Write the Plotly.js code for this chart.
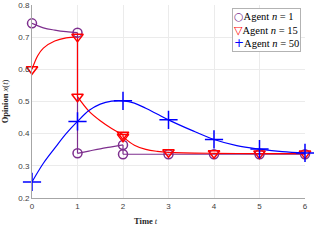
<!DOCTYPE html>
<html>
<head>
<meta charset="utf-8">
<script src="https://cdn.plot.ly/plotly-3.0.1.min.js"></script>
<style>html,body{margin:0;padding:0;background:#fff;}#chart{width:314px;height:240px;}</style>
</head>
<body>
<div id="chart"></div>
<script>
// Agent n = 1 (purple): curve segments separated by jumps
const a1SegT = [[0, 0.25, 0.5, 0.75, 1], [1, 1.25, 1.5, 1.75, 2], [2, 3, 4, 5, 6]];
const a1SegX = [[0.743, 0.729, 0.722, 0.717, 0.714], [0.339, 0.346, 0.353, 0.359, 0.365], [0.336, 0.336, 0.336, 0.336, 0.336]];
const a1MarkT = [0, 1, 1, 2, 2, 3, 4, 5, 6];
const a1MarkX = [0.743, 0.714, 0.339, 0.365, 0.336, 0.336, 0.336, 0.336, 0.336];

// Agent n = 15 (red)
const a15SegT = [[0, 0.125, 0.25, 0.5, 0.75, 1], [1, 1.25, 1.5, 1.75, 2], [2, 2.25, 2.5, 2.75, 3, 4, 5, 6]];
const a15SegX = [[0.600, 0.642, 0.666, 0.688, 0.698, 0.701], [0.515, 0.470, 0.440, 0.416, 0.397], [0.390, 0.364, 0.351, 0.345, 0.342, 0.339, 0.338, 0.338]];
const a15MarkT = [0, 1, 1, 2, 2, 3, 4, 5, 6];
const a15MarkX = [0.600, 0.701, 0.515, 0.397, 0.390, 0.342, 0.339, 0.338, 0.338];

// Agent n = 50 (blue)
const a50SegT = [[0, 0.25, 0.5, 0.75, 1, 1.25, 1.5, 1.75, 2, 2.25, 2.5, 2.75, 3, 3.5, 4, 4.5, 5, 5.5, 6]];
const a50SegX = [[0.250, 0.308, 0.355, 0.400, 0.438, 0.472, 0.492, 0.501, 0.502, 0.495, 0.479, 0.461, 0.443, 0.411, 0.382, 0.363, 0.352, 0.344, 0.340]];
const a50MarkT = [0, 1, 2, 3, 4, 5, 6];
const a50MarkX = [0.250, 0.438, 0.502, 0.443, 0.382, 0.352, 0.340];

const legendNames = ['Agent <i>n</i> = 1', 'Agent <i>n</i> = 15', 'Agent <i>n</i> = 50'];
const legendGlyphs = ['○', '▽', '+'];
const xTicks = [0, 1, 2, 3, 4, 5, 6];
const yTicks = [0.2, 0.3, 0.4, 0.5, 0.6, 0.7, 0.8];

const agents = [
  {segT: a1SegT, segX: a1SegX, mT: a1MarkT, mX: a1MarkX, color: '#7E2F8E', symbol: 'circle-open', size: 9, gsize: 11},
  {segT: a15SegT, segX: a15SegX, mT: a15MarkT, mX: a15MarkX, color: '#FF0000', symbol: 'triangle-down-open', size: 10, gsize: 11},
  {segT: a50SegT, segX: a50SegX, mT: a50MarkT, mX: a50MarkX, color: '#0000FF', symbol: 'cross-thin-open', size: 13, gsize: 12}
];

const traces = [];
agents.forEach((a, i) => {
  a.segT.forEach((st, k) => {
    traces.push({x: st, y: a.segX[k], mode: 'lines', line: {color: a.color, width: 1.2, shape: 'spline', smoothing: 1}, showlegend: false, hoverinfo: 'skip'});
    if (k + 1 < a.segT.length) {
      const t0 = st[st.length - 1], x0 = a.segX[k][st.length - 1];
      const t1 = a.segT[k + 1][0], x1 = a.segX[k + 1][0];
      traces.push({x: [t0, t1], y: [x0, x1], mode: 'lines', line: {color: a.color, width: 1.2}, showlegend: false, hoverinfo: 'skip'});
    }
  });
});
agents.forEach((a, i) => {
  traces.push({x: a.mT, y: a.mX, mode: 'markers', name: legendNames[i], showlegend: false, cliponaxis: false,
    marker: {symbol: a.symbol, size: a.size, color: a.color, line: {color: a.color, width: 1.5}}});
});

const legendText = agents.map((a, i) =>
  '<span style="color:' + a.color + ';font-family:DejaVu Sans;font-size:' + a.gsize + 'px">' + legendGlyphs[i] + '</span>' + legendNames[i]
).join('<br>');

const layout = {
  width: 314, height: 240,
  margin: {l: 32, r: 9, t: 5, b: 42},
  paper_bgcolor: '#fff', plot_bgcolor: '#fff',
  font: {family: 'Liberation Sans, Arial, sans-serif', size: 8, color: '#404040'},
  xaxis: {range: [0, 6], tickvals: xTicks, ticktext: xTicks.map(String), showgrid: true, gridcolor: '#ebebeb', gridwidth: 1,
    zeroline: false, showline: true, linecolor: '#a6a6a6', linewidth: 1, ticks: '', tickfont: {size: 8, color: '#404040'}},
  yaxis: {range: [0.2, 0.8], tickvals: yTicks, ticktext: yTicks.map(v => v.toFixed(1)), showgrid: true, gridcolor: '#ebebeb', gridwidth: 1,
    zeroline: false, showline: true, linecolor: '#a6a6a6', linewidth: 1, ticks: '', tickfont: {size: 8, color: '#404040'},
    title: {text: '<b>Opinion</b> <i>x</i>(<i>t</i>)', font: {family: 'Liberation Serif, serif', size: 8.5, color: '#262626'}, standoff: 8}},
  annotations: [
    {text: '<b>Time</b> <i>t</i>', xref: 'paper', yref: 'paper', x: 0.419, y: -0.117, xanchor: 'center', yanchor: 'middle',
      showarrow: false, font: {family: 'Liberation Serif, serif', size: 8.5, color: '#262626'}},
    {text: legendText, xref: 'paper', yref: 'paper', x: 0.985, y: 0.983, xanchor: 'right', yanchor: 'top', align: 'left',
      showarrow: false, bgcolor: '#fff', bordercolor: '#b3b3b3', borderwidth: 1, borderpad: 1,
      font: {family: 'Liberation Serif, serif', size: 10.5, color: '#000'}}
  ],
  showlegend: false
};

Plotly.newPlot('chart', traces, layout, {staticPlot: true, displayModeBar: false});
</script>
</body>
</html>
